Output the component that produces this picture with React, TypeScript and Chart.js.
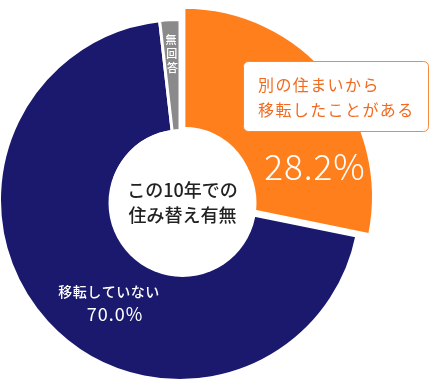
import React, { useEffect, useRef } from "react";
import { Chart, registerables } from "chart.js";

Chart.register(...registerables);

const categories = ["別の住まいから移転したことがある", "移転していない", "無回答"];
const shares = [28.2, 70.0, 1.8];
const shareLabels = ["28.2%", "70.0%", ""];
const sliceColors = ["#FF7F1D", "#1A196E", "#8A8A8A"];
const centerLines = ["この10年での", "住み替え有無"];
const boxLines = ["別の住まいから", "移転したことがある"];
const navyLabel = "移転していない";
const grayLabel = ["無", "回", "答"];

const JP = '"Noto Sans CJK JP", "Noto Sans", sans-serif';

const decorPlugin = {
  id: "decor",
  afterDatasetUpdate(chart: any) {
    const meta = chart.getDatasetMeta(0);
    const base = meta.data[1];
    const hi = meta.data[0];
    if (base && hi) hi.outerRadius = base.outerRadius + 9;
  },
  afterDatasetsDraw(chart: any) {
    const ctx = chart.ctx as CanvasRenderingContext2D;
    const meta = chart.getDatasetMeta(0);
    const ref = meta.data[1];
    const cx = ref.x;
    const cy = ref.y;
    ctx.save();
    // center hole
    const hx = cx + 2.5;
    const hy = cy + 3;
    ctx.beginPath();
    ctx.arc(hx, hy, 74, 0, Math.PI * 2);
    ctx.fillStyle = "#ffffff";
    ctx.fill();
    ctx.fillStyle = "#222222";
    ctx.font = `500 18px ${JP}`;
    ctx.textAlign = "center";
    ctx.textBaseline = "middle";
    ctx.fillText(centerLines[0], hx, hy - 13);
    ctx.fillText(centerLines[1], hx, hy + 12);

    // orange callout box
    const bx = cx + 63;
    const by = cy - 139;
    const bw = 186;
    const bh = 71;
    ctx.beginPath();
    (ctx as any).roundRect(bx + 0.5, by + 0.5, bw - 1, bh - 1, 5);
    ctx.fillStyle = "#ffffff";
    ctx.fill();
    ctx.lineWidth = 1;
    ctx.strokeStyle = "#F58A3A";
    ctx.stroke();
    ctx.fillStyle = "#F26A1E";
    ctx.font = `400 16px ${JP}`;
    ctx.textAlign = "left";
    (ctx as any).letterSpacing = "1.4px";
    ctx.fillText(boxLines[0], bx + 15, by + 24);
    ctx.fillText(boxLines[1], bx + 15, by + 49);
    (ctx as any).letterSpacing = "1px";

    // orange percent
    ctx.fillStyle = "#ffffff";
    ctx.font = `300 35px ${JP}`;
    ctx.textAlign = "center";
    ctx.fillText(shareLabels[0], cx + 135, cy - 33);

    // navy labels
    (ctx as any).letterSpacing = "0.5px";
    ctx.font = `500 14px ${JP}`;
    ctx.fillText(navyLabel, cx - 71, cy + 92);
    (ctx as any).letterSpacing = "1px";
    ctx.font = `400 18px ${JP}`;
    ctx.fillText(shareLabels[1], cx - 65, cy + 114);

    // gray vertical label along its slice
    const g = meta.data[2];
    const mid = (g.startAngle + g.endAngle) / 2;
    (ctx as any).letterSpacing = "0px";
    ctx.font = `500 11px ${JP}`;
    [160, 146, 132].forEach((r, i) => {
      ctx.fillText(grayLabel[i], g.x + Math.cos(mid) * r, g.y + Math.sin(mid) * r);
    });
    ctx.restore();
  },
};

export default function App() {
  const ref = useRef<HTMLCanvasElement>(null);
  useEffect(() => {
    if (!ref.current) return;
    const chart = new Chart(ref.current, {
      type: "doughnut",
      data: {
        labels: categories,
        datasets: [
          {
            data: shares,
            backgroundColor: sliceColors,
            borderColor: "#ffffff",
            borderWidth: 3,
            offset: [20, 0, 0],
            hoverOffset: 0,
          },
        ],
      },
      options: {
        responsive: false,
        animation: false,
        radius: 180.5,
        cutout: "38%",
        layout: { padding: { left: 0, right: 70, top: 20, bottom: 0 } },
        plugins: { legend: { display: false }, tooltip: { enabled: false } },
        events: [],
      } as any,
      plugins: [decorPlugin],
    });
    return () => chart.destroy();
  }, []);
  return (
    <div style={{ position: "fixed", left: 0, top: 0, width: 430, height: 380, background: "#fff" }}>
      <canvas ref={ref} width={430} height={380} style={{ display: "block" }} />
    </div>
  );
}
